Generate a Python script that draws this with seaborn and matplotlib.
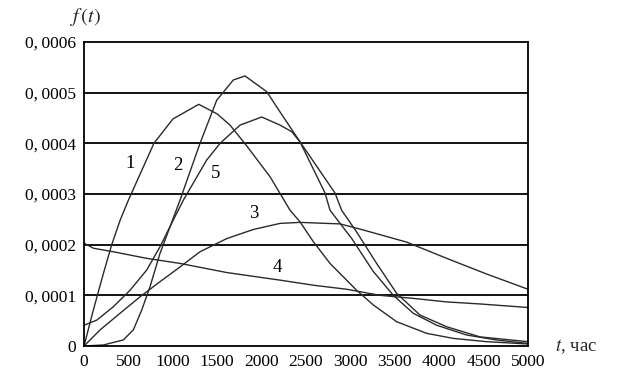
import matplotlib
matplotlib.use("Agg")
import matplotlib.pyplot as plt
import seaborn as sns
import pandas as pd
from matplotlib.ticker import FuncFormatter

# curve 1
t1 = [0, 105, 218, 312, 406, 500, 787, 1000, 1292, 1500, 1644, 1832, 2095, 2320,
      2432, 2582, 2770, 3070, 3258, 3520, 3858, 4159, 4535, 5000]
f1 = [0, 0.000071, 0.000143, 0.0002, 0.000248, 0.000288, 0.0004, 0.000448, 0.000477,
      0.000458, 0.000436, 0.000395, 0.000334, 0.000268, 0.000245, 0.000206, 0.000163,
      0.00011, 0.000081, 0.000048, 0.000025, 0.000015, 0.0000085, 0.000004]

# curve 2
t2 = [0, 218, 443, 556, 650, 743, 856, 968, 1081, 1306, 1494, 1681, 1813, 2057, 2245,
      2432, 2714, 2770, 3015, 3258, 3483, 3708, 3971, 4309, 4647, 5000]
f2 = [0, 0.000002, 0.000012, 0.000032, 0.000071, 0.000117, 0.000183, 0.000235, 0.000288,
      0.0004, 0.000485, 0.000525, 0.000533, 0.000502, 0.000452, 0.000403, 0.000302,
      0.000268, 0.000212, 0.000147, 0.0001, 0.0000645, 0.000041, 0.0000217, 0.0000118,
      0.000005]

# curve 3
t3 = [0, 180, 405, 630, 856, 1081, 1306, 1607, 1907, 2207, 2432, 2883, 3145, 3634,
      4084, 4535, 5000]
f3 = [0, 0.0000316, 0.0000645, 0.000097, 0.000127, 0.000156, 0.000186, 0.000212, 0.00023,
      0.000242, 0.000244, 0.000241, 0.000229, 0.000205, 0.000173, 0.000142, 0.000112]

# curve 4
t4 = [0, 105, 330, 706, 1081, 1607, 2207, 2582, 2958, 3333, 3708, 4084, 4459, 5000]
f4 = [0.000203, 0.000193, 0.000186, 0.000173, 0.000163, 0.000145, 0.00013, 0.00012,
      0.000112, 0.0001, 0.000094, 0.000087, 0.000083, 0.000076]

# curve 5
t5 = [0, 143, 330, 518, 706, 856, 1006, 1119, 1381, 1532, 1757, 2001, 2207, 2339, 2432,
      2826, 2901, 3070, 3295, 3520, 3784, 4084, 4459, 5000]
f5 = [0.000041, 0.000051, 0.0000775, 0.00011, 0.00015, 0.000196, 0.000249, 0.000288,
      0.000367, 0.0004, 0.000436, 0.000452, 0.000436, 0.000423, 0.000403, 0.000302,
      0.000268, 0.000225, 0.000163, 0.000104, 0.000061, 0.000038, 0.000018, 0.0000085]

curve_names = ["1", "2", "3", "4", "5"]
# label positions for curve numbers
label_t = [518, 1059, 1914, 2173, 1486]
label_f = [0.000361, 0.000357, 0.000262, 0.000155, 0.000341]

x_ticks = [0, 500, 1000, 1500, 2000, 2500, 3000, 3500, 4000, 4500, 5000]
y_ticks = [0, 0.0001, 0.0002, 0.0003, 0.0004, 0.0005, 0.0006]

frames = []
for name, t, f in zip(curve_names, [t1, t2, t3, t4, t5], [f1, f2, f3, f4, f5]):
    frames.append(pd.DataFrame({"t": t, "f": f, "curve": name}))
df = pd.concat(frames, ignore_index=True)

sns.set_style("white")
plt.rcParams["font.family"] = ["Liberation Serif", "DejaVu Serif"]
plt.rcParams["mathtext.fontset"] = "stix"

fig = plt.figure(figsize=(6.21, 3.83), dpi=100)
ax = fig.add_axes([0.1353, 0.0966, 0.7150, 0.7937])

sns.lineplot(data=df, x="t", y="f", hue="curve", palette=["#2a2a2a"] * 5,
             estimator=None, sort=False, legend=False, linewidth=1.0, ax=ax)

ax.set_xlim(0, 5000)
ax.set_ylim(0, 0.0006)
ax.set_xticks(x_ticks)
ax.set_yticks(y_ticks)


def fmt_y(v, pos):
    if v == 0:
        return "0"
    return "{:.4f}".format(v).replace(".", ",\u2009")


ax.yaxis.set_major_formatter(FuncFormatter(fmt_y))
ax.tick_params(axis="both", direction="out", length=4, width=1, colors="black",
               labelsize=12.5, pad=2)
ax.set_xlabel("")
ax.set_ylabel("")

for yv in y_ticks[1:-1]:
    ax.axhline(yv, color="black", linewidth=1.3, zorder=1)

for sp in ax.spines.values():
    sp.set_visible(True)
    sp.set_color("black")
    sp.set_linewidth(1.3)

for name, lt, lf in zip(curve_names, label_t, label_f):
    ax.text(lt, lf, name, fontsize=13.5, ha="center", va="center", color="black")

fig.text(0.137, 0.956, "$f\\,(t)$", fontsize=14.5, ha="center", va="center")
fig.text(0.928, 0.094, "$t$, час", fontsize=13.5, ha="center", va="center")

fig.savefig("out.png", dpi=100, facecolor="white")
